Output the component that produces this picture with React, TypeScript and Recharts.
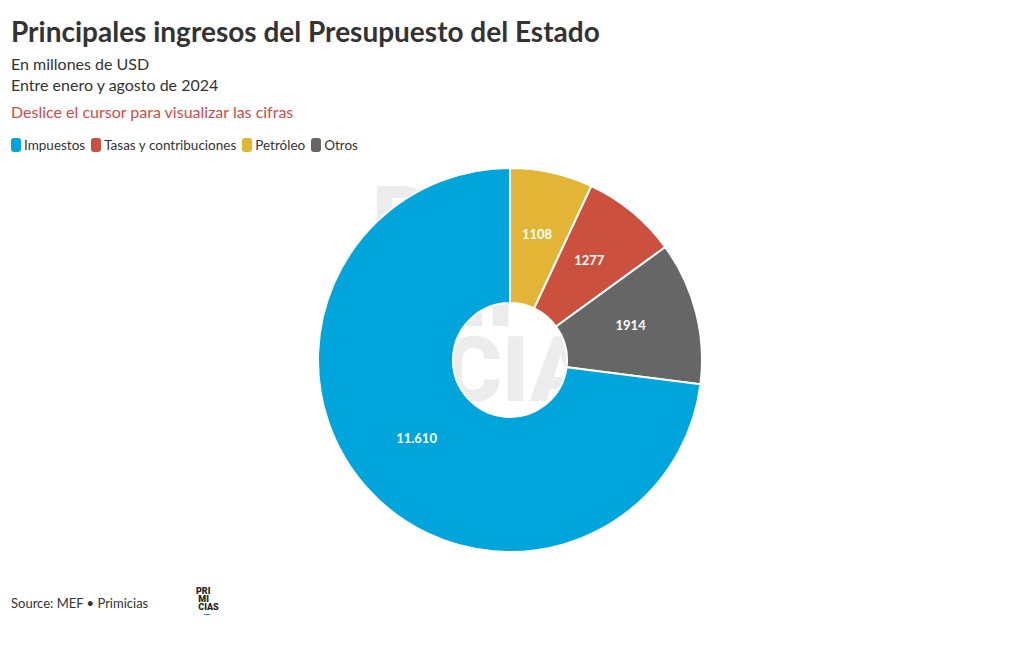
import React from 'react';
import { PieChart, Pie, Cell } from 'recharts';

const categories = ['Petróleo', 'Tasas y contribuciones', 'Otros', 'Impuestos'];
const values = [1108, 1277, 1914, 11610];
const valueLabels = ['1108', '1277', '1914', '11.610'];
const colors = ['#e3b536', '#cc503e', '#666666', '#00a5dc'];
const legendOrder = ['Impuestos', 'Tasas y contribuciones', 'Petróleo', 'Otros'];

const data = categories.map((name, i) => ({ name, value: values[i], label: valueLabels[i] }));

const RADIAN = Math.PI / 180;

const renderLabel = (props: any) => {
    const { cx, cy, midAngle, innerRadius, outerRadius, index } = props;
    const r = (innerRadius + outerRadius) / 2;
    const x = cx + r * Math.cos(-midAngle * RADIAN);
    const y = cy + r * Math.sin(-midAngle * RADIAN) - 4;
    return (
        <text x={x} y={y} fill="#fff" textAnchor="middle" dominantBaseline="central"
            fontSize={13} fontWeight={700} fontFamily="Lato, sans-serif">
            {data[index].label}
        </text>
    );
};

const wm: React.CSSProperties = {
    position: 'absolute', fontSize: 90, fontWeight: 900, lineHeight: '75px',
    color: '#ececec', fontFamily: 'Roboto, sans-serif', whiteSpace: 'nowrap',
};

const App: React.FC = () => {
    const font = 'Lato, "Open Sans", sans-serif';
    return (
        <div style={{ position: 'absolute', left: 0, top: 0, width: 1020, height: 650, background: '#fff', fontFamily: font, color: '#333' }}>
            <div style={{ position: 'absolute', left: 11, top: 14, fontSize: 28, fontWeight: 700, color: '#333', whiteSpace: 'nowrap' }}>
                Principales ingresos del Presupuesto del Estado
            </div>
            <div style={{ position: 'absolute', left: 11, top: 53, fontSize: 16, lineHeight: '21px', color: '#333' }}>
                En millones de USD<br />Entre enero y agosto de 2024
            </div>
            <div style={{ position: 'absolute', left: 11, top: 102, fontSize: 16, color: '#cc4b4b' }}>
                Deslice el cursor para visualizar las cifras
            </div>
            <div style={{ position: 'absolute', left: 11, top: 137, display: 'flex', fontSize: 13.5, alignItems: 'center' }}>
                {legendOrder.map((name) => (
                    <div key={name} style={{ display: 'flex', alignItems: 'center', marginRight: 6 }}>
                        <span style={{ width: 10, height: 14, borderRadius: 3, background: colors[categories.indexOf(name)], marginRight: 3, display: 'inline-block' }} />
                        <span>{name}</span>
                    </div>
                ))}
            </div>
            <div style={{ ...wm, left: 372, top: 183 }}>PRI</div>
            <div style={{ ...wm, left: 408, top: 258 }}>MI</div>
            <div style={{ ...wm, left: 443, top: 333 }}>CIAS</div>
            <div style={{ position: 'absolute', left: 0, top: 0 }}>
                <PieChart width={1020} height={650} margin={{ top: 0, right: 0, bottom: 0, left: 0 }}>
                    <Pie data={data} dataKey="value" nameKey="name" cx={510} cy={360}
                        innerRadius={57} outerRadius={192} startAngle={90} endAngle={-270}
                        stroke="#fff" strokeWidth={2} label={renderLabel} labelLine={false}
                        isAnimationActive={false}>
                        {data.map((d, i) => <Cell key={d.name} fill={colors[i]} />)}
                    </Pie>
                </PieChart>
            </div>
            <div style={{ position: 'absolute', left: 11, top: 595, fontSize: 13, color: '#333' }}>
                Source: MEF • Primicias
            </div>
            <div style={{ position: 'absolute', left: 196, top: 587, fontSize: 9, fontWeight: 900, lineHeight: '8px', color: '#222', fontFamily: 'Roboto, sans-serif' }}>
                PRI<br />&nbsp;MI<br />&nbsp;CIAS
                <div style={{ width: 6, height: 1, background: '#00a5dc', marginLeft: 8, marginTop: 3 }} />
            </div>
        </div>
    );
};

export default App;
